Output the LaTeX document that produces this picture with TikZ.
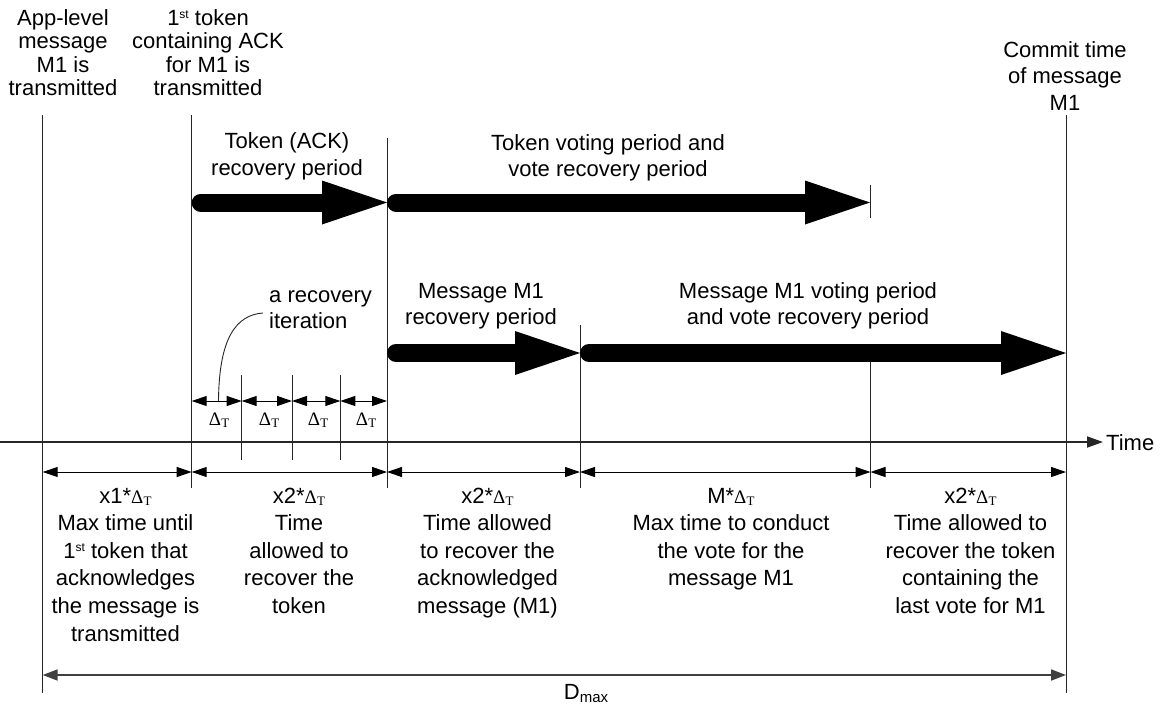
\documentclass[tikz,border=0pt]{standalone}
\usepackage{fontspec}
\setmainfont{Liberation Sans}
\newfontfamily\greekserif{Liberation Serif}
\usetikzlibrary{arrows.meta}
% Delta_T in a serif face, subscript T lowered
\newcommand{\dT}{{\greekserif\fontsize{19}{19}\selectfont Δ\kern0.3pt\raisebox{-2.5pt}{\fontsize{13}{13}\selectfont T}}}
% ordinal suffix "st"
\newcommand{\ordst}{\raisebox{7pt}{\fontsize{12}{12}\selectfont st}}
\begin{document}
\begin{tikzpicture}[x=1pt,y=-1pt,
  % multi-line labels are placed by the baseline of their last line
  txt/.style={font=\fontsize{22}{23.5}\selectfont, align=center, inner sep=0pt, anchor=base},
  txtw/.style={txt, font=\fontsize{22}{26.5}\selectfont},
  col/.style={txt, font=\fontsize{22}{27.6}\selectfont},
  vline/.style={line width=1pt, draw=black!85},
  axis/.style={line width=1.8pt, draw=black!85, -{Triangle[length=16pt,width=11pt]}},
  span/.style={line width=1pt, draw=black, {Triangle[length=15pt,width=10pt]}-{Triangle[length=15pt,width=10pt]}},
  dmax/.style={line width=1.8pt, draw=black!75, {Triangle[length=15pt,width=11pt]}-{Triangle[length=15pt,width=11pt]}},
  fat/.style={line width=18pt, line cap=round, draw=black, -{Triangle[length=65pt,width=44pt,line width=0pt]}},
  dlabel/.style={inner sep=0pt, anchor=base}]
\useasboundingbox (0,0) rectangle (1165,707);

% ---- event lines ----
\coordinate (Atop) at (42.7,115);  \coordinate (Abot) at (42.7,693);
\coordinate (Btop) at (191.7,115); \coordinate (Bbot) at (191.7,488);
\coordinate (Ctop) at (387,138);   \coordinate (Cbot) at (387,488);
\coordinate (Dtop) at (580,325);   \coordinate (Dbot) at (580,488);
\coordinate (Etop) at (870.5,362); \coordinate (Ebot) at (870.5,488);
\coordinate (Ftop) at (1066,115);  \coordinate (Fbot) at (1066,693);
\draw[vline] (Atop) -- (Abot);
\draw[vline] (Btop) -- (Bbot);
\draw[vline] (Ctop) -- (Cbot);
\draw[vline] (Dtop) -- (Dbot);
\draw[vline] (Etop) -- (Ebot);
\draw[vline] (Ftop) -- (Fbot);

% recovery iteration ticks
\coordinate (i1t) at (241.7,375); \coordinate (i1b) at (241.7,460);
\coordinate (i2t) at (292,375);   \coordinate (i2b) at (292,460);
\coordinate (i3t) at (340.3,375); \coordinate (i3b) at (340.3,460);
\draw[vline] (i1t) -- (i1b);
\draw[vline] (i2t) -- (i2b);
\draw[vline] (i3t) -- (i3b);

% ---- time axis ----
\coordinate (t0) at (0,442);
\coordinate (t1) at (1103,442);
\draw[axis] (t0) -- (t1);
\node[inner sep=0pt, anchor=base west, font=\fontsize{22}{23.5}\selectfont] (timelbl) at (1106,450) {Time};

% ---- top event labels ----
\node[txt] (labA) at (63,95.5) {App-level\\message\\M1 is\\transmitted};
\node[txt] (labB) at (208,95.5) {1\ordst{} token\\containing ACK\\for M1 is\\transmitted};
\node[txtw] (labF) at (1065,110) {Commit time\\of message\\M1};

% ---- token periods ----
\node[txtw] (tokrec) at (287,175) {Token (ACK)\\recovery period};
\node[txtw] (tokvote) at (608,176.5) {Token voting period and\\vote recovery period};
\coordinate (fa1s) at (200.7,202.5); \coordinate (fa1e) at (387,202.5);
\coordinate (fa2s) at (396,202.5);   \coordinate (fa2e) at (870,202.5);
\draw[fat] (fa1s) -- (fa1e);
\draw[fat] (fa2s) -- (fa2e);
\coordinate (tk2t) at (870,185); \coordinate (tk2b) at (870,218);
\draw[vline] (tk2t) -- (tk2b);

% ---- message periods ----
\node[txtw] (msgrec) at (481,324.5) {Message M1\\recovery period};
\node[txtw] (msgvote) at (808,324.5) {Message M1 voting period\\and vote recovery period};
\coordinate (fa3s) at (396,353); \coordinate (fa3e) at (580,353);
\coordinate (fa4s) at (589,353); \coordinate (fa4e) at (1066,353);
\draw[fat] (fa3s) -- (fa3e);
\draw[fat] (fa4s) -- (fa4e);

% ---- recovery iterations ----
\node[txtw, align=left, anchor=base west] (iter) at (269,328.5) {a recovery\\iteration};
\coordinate (cvs) at (263,313);
\coordinate (cve) at (218.5,401);
\draw[line width=0.9pt, draw=black!85] (cvs) .. controls (236,315) and (219,338) .. (cve);
\coordinate (d0) at (191.7,401); \coordinate (d1) at (241.7,401);
\coordinate (d2) at (292,401);   \coordinate (d3) at (340.3,401);
\coordinate (d4) at (387,401);
\draw[span] (d0) -- (d1);
\draw[span] (d1) -- (d2);
\draw[span] (d2) -- (d3);
\draw[span] (d3) -- (d4);
\node[dlabel] (dl1) at (219,425) {\dT};
\node[dlabel] (dl2) at (269,425) {\dT};
\node[dlabel] (dl3) at (318,425) {\dT};
\node[dlabel] (dl4) at (366,425) {\dT};

% ---- interval spans below the axis ----
\coordinate (sA) at (42.7,472);  \coordinate (sB) at (191.7,472);
\coordinate (sC) at (387,472);   \coordinate (sD) at (580,472);
\coordinate (sE) at (870.5,472); \coordinate (sF) at (1066,472);
\draw[span] (sA) -- (sB);
\draw[span] (sB) -- (sC);
\draw[span] (sC) -- (sD);
\draw[span] (sD) -- (sE);
\draw[span] (sE) -- (sF);

\node[col] (c1) at (125.5,641) {x1*\dT\\Max time until\\1\ordst{} token that\\acknowledges\\the message is\\transmitted};
\node[col] (c2) at (299,613.4) {x2*\dT\\Time\\allowed to\\recover the\\token};
\node[col] (c3) at (487.5,613.4) {x2*\dT\\Time allowed\\to recover the\\acknowledged\\message (M1)};
\node[col] (c4) at (731,585.8) {M*\dT\\Max time to conduct\\the vote for the\\message M1};
\node[col] (c5) at (970.5,613.4) {x2*\dT\\Time allowed to\\recover the token\\containing the\\last vote for M1};

% ---- overall bound ----
\coordinate (mA) at (42.7,675); \coordinate (mF) at (1066,675);
\draw[dmax] (mA) -- (mF);
\node[inner sep=0pt, anchor=base, font=\fontsize{22}{23.5}\selectfont] (dmaxlbl) at (586,699) {D\raisebox{-3pt}{\fontsize{15}{15}\selectfont max}};
\end{tikzpicture}
\end{document}
